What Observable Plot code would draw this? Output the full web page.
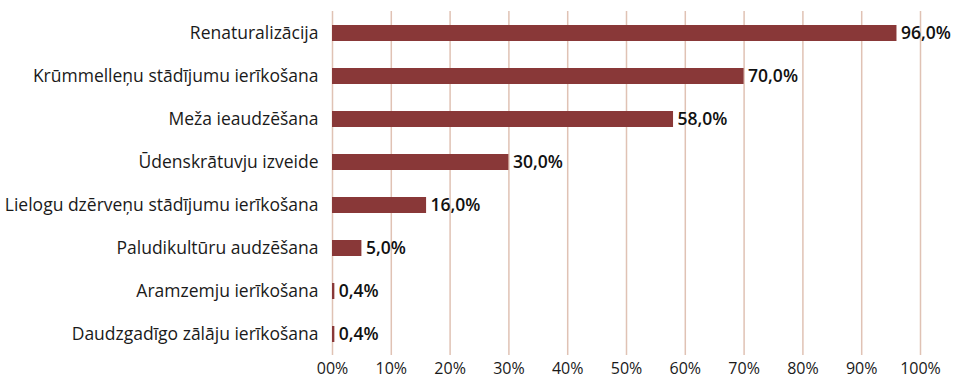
<!DOCTYPE html>
<html><head><meta charset="utf-8">
<script src="https://cdn.jsdelivr.net/npm/d3@7"></script>
<script src="https://cdn.jsdelivr.net/npm/@observablehq/plot@0.6"></script>
<style>body{margin:0;background:#fff}</style>
</head><body><div id="chart"></div>
<script>
const categories = ["Renaturalizācija","Krūmmelleņu stādījumu ierīkošana","Meža ieaudzēšana","Ūdenskrātuvju izveide","Lielogu dzērveņu stādījumu ierīkošana","Paludikultūru audzēšana","Aramzemju ierīkošana","Daudzgadīgo zālāju ierīkošana"];
const values = [96.0, 70.0, 58.0, 30.0, 16.0, 5.0, 0.4, 0.4];
const ticks = [0,10,20,30,40,50,60,70,80,90,100];
const tickLabels = ["00%","10%","20%","30%","40%","50%","60%","70%","80%","90%","100%"];
const data = categories.map((c,i)=>({cat:c, v:values[i]}));
const fmt = v => v.toFixed(1).replace(".", ",") + "%";
const chart = Plot.plot({
  width: 957, height: 378,
  marginTop: 11, marginBottom: 23, marginLeft: 332, marginRight: 37,
  style: {fontFamily: "Open Sans", fontSize: "17.5px", color: "#1a1a1a"},
  x: {domain: [0,100], label: null},
  y: {domain: categories, paddingInner: 0.63, paddingOuter: 0.315, label: null},
  marks: [
    Plot.gridX(ticks, {stroke: "#e0c2b4", strokeOpacity: 1, strokeWidth: 1.5}),
    Plot.axisX(ticks, {tickFormat: d => tickLabels[ticks.indexOf(d)], tickSize: 0, tickPadding: 7, fontSize: 16}),
    Plot.axisY({tickSize: 0, tickPadding: 14, fontSize: 17.5}),
    Plot.barX(data, {x: "v", y: "cat", fill: "#893838"}),
    Plot.text(data, {x: "v", y: "cat", text: d => fmt(d.v), textAnchor: "start", dx: 4, fontWeight: 600, fontSize: 17.5, fill: "#111"})
  ]
});
document.getElementById("chart").append(chart);
</script></body></html>
